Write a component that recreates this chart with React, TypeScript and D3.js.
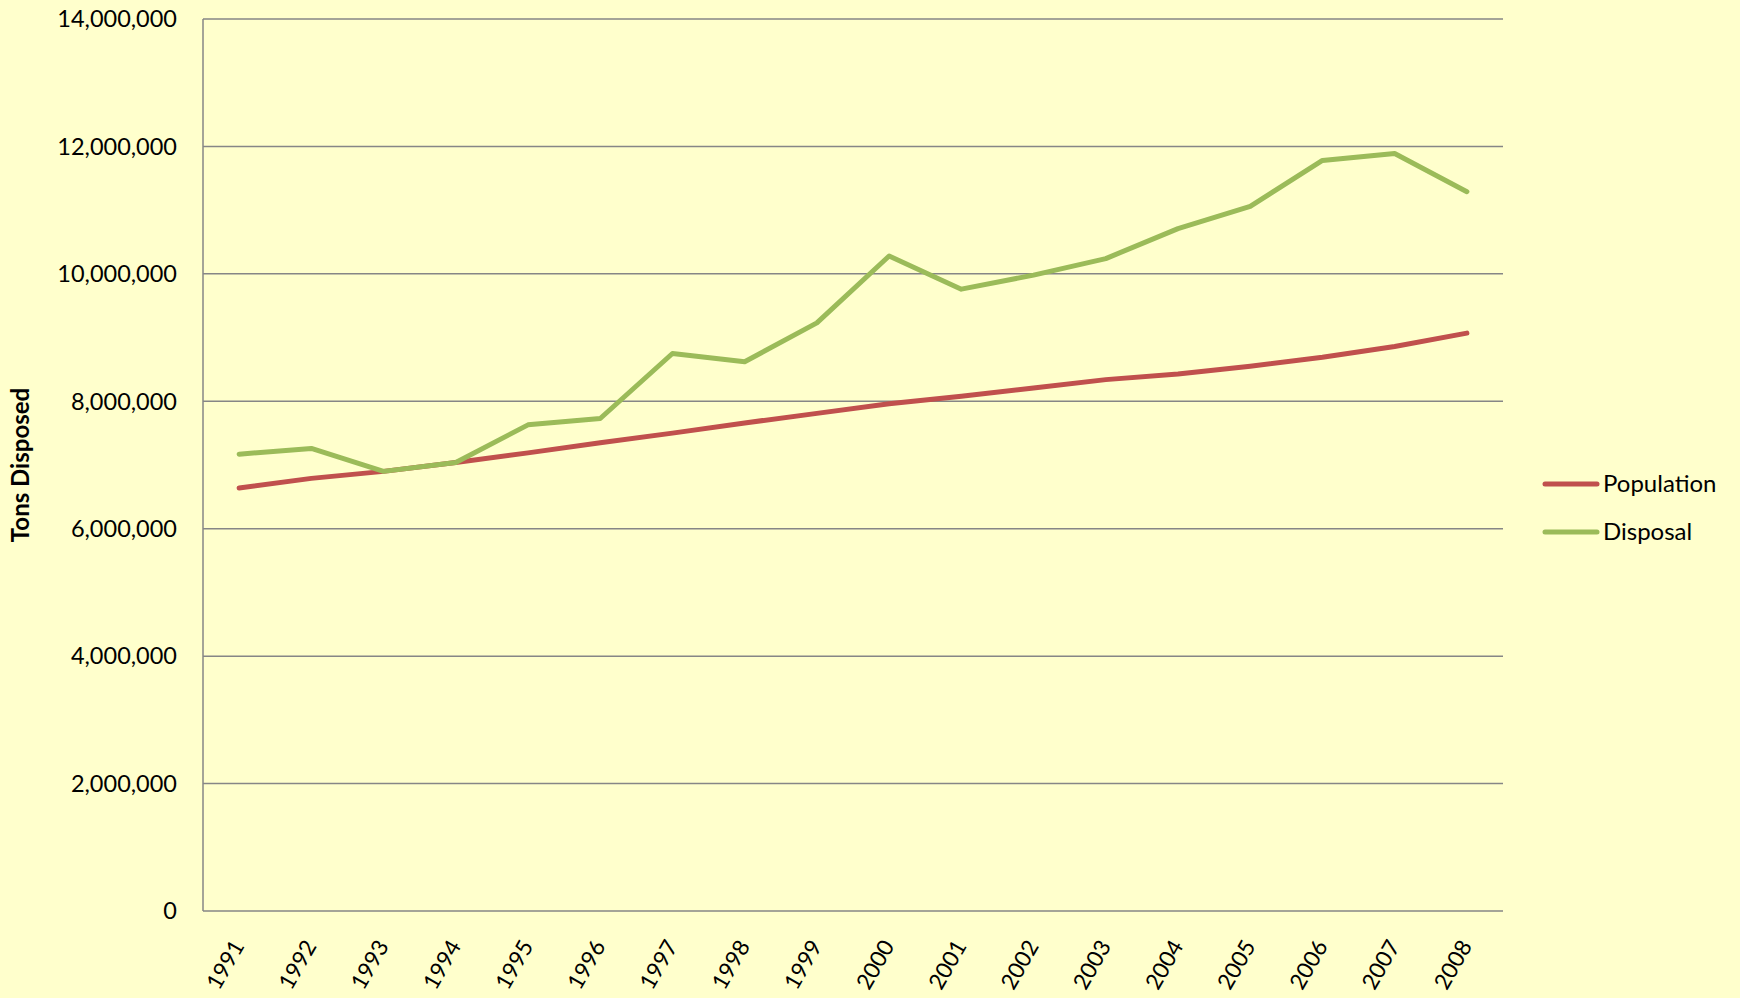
import React from 'react'
import { scaleBand, scaleLinear, line, format } from 'd3'

const years = ['1991', '1992', '1993', '1994', '1995', '1996', '1997', '1998', '1999', '2000', '2001', '2002', '2003', '2004', '2005', '2006', '2007', '2008']
const population = [6640000, 6790000, 6900000, 7040000, 7190000, 7350000, 7500000, 7660000, 7810000, 7960000, 8080000, 8210000, 8340000, 8430000, 8550000, 8690000, 8860000, 9070000]
const disposal = [7170000, 7260000, 6900000, 7040000, 7630000, 7730000, 8750000, 8620000, 9230000, 10280000, 9760000, 9980000, 10240000, 10710000, 11060000, 11780000, 11890000, 11290000]
const yTicks = [0, 2000000, 4000000, 6000000, 8000000, 10000000, 12000000, 14000000]

const seriesNames = ['Population', 'Disposal']
const seriesColors = ['#C0504D', '#9BBB59']

const W = 1740
const H = 998
const plot = { left: 203, right: 1503, top: 19, bottom: 911 }
const font = 'Lato, "Open Sans", sans-serif'

function App() {
  const x = scaleBand().domain(years).range([plot.left, plot.right])
  const y = scaleLinear().domain([0, 14000000]).range([plot.bottom, plot.top])
  const fmt = format(',')

  const drawLine = line<number>()
    .x((d, i) => (x(years[i]) as number) + x.bandwidth() / 2)
    .y(d => y(d))

  const allSeries = [population, disposal]

  return (
    <div style={{ position: 'absolute', left: 0, top: 0 }}>
      <svg width={W} height={H} style={{ display: 'block' }}>
        <rect x={0} y={0} width={W} height={H} fill="#FFFFCC" />

        {/* gridlines and y labels */}
        {yTicks.map(t => (
          <g key={t}>
            <line x1={plot.left} x2={plot.right} y1={y(t)} y2={y(t)} stroke="#868686" strokeWidth={1.5} />
            <text x={177} y={y(t)} dy="0.35em" textAnchor="end" fontSize={23.5} fontFamily={font} fill="#000">
              {fmt(t)}
            </text>
          </g>
        ))}
        <line x1={plot.left} x2={plot.left} y1={plot.top} y2={plot.bottom} stroke="#868686" strokeWidth={1.5} />

        {/* x labels */}
        {years.map(yr => {
          const cx = (x(yr) as number) + x.bandwidth() / 2 + 6
          const cy = 946
          return (
            <text key={yr} x={cx} y={cy} textAnchor="end" fontSize={22.5} fontFamily={font}
              transform={`rotate(-60, ${cx}, ${cy})`}>
              {yr}
            </text>
          )
        })}

        {/* y title */}
        <text x={0} y={0} transform={`translate(29, ${(plot.top + plot.bottom) / 2}) rotate(-90)`}
          textAnchor="middle" fontSize={24} fontWeight="bold" fontFamily={font}>
          Tons Disposed
        </text>

        {/* series */}
        {allSeries.map((s, i) => (
          <path key={seriesNames[i]} d={drawLine(s) || ''} fill="none" stroke={seriesColors[i]}
            strokeWidth={5} strokeLinejoin="round" strokeLinecap="round" />
        ))}

        {/* legend */}
        {seriesNames.map((n, i) => {
          const ly = 484 + i * 48
          return (
            <g key={n}>
              <line x1={1545} x2={1597} y1={ly} y2={ly} stroke={seriesColors[i]} strokeWidth={5} strokeLinecap="round" />
              <text x={1603} y={ly} dy="0.35em" fontSize={24} fontFamily={font}>{n}</text>
            </g>
          )
        })}
      </svg>
    </div>
  )
}

export default App
